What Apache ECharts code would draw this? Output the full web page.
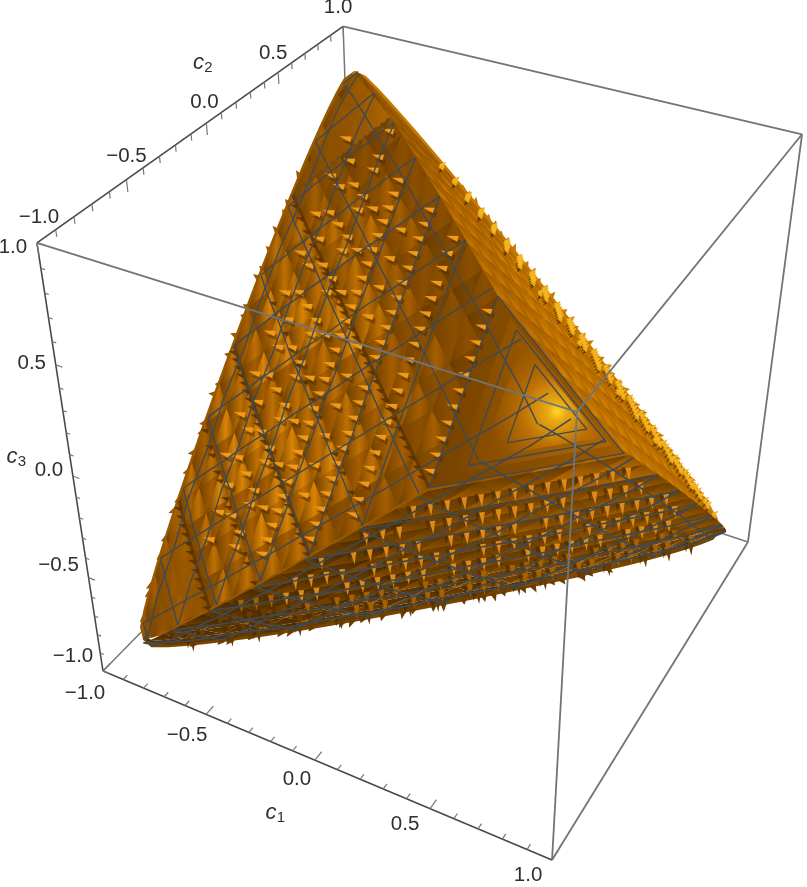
<!DOCTYPE html>
<html>
<head>
<meta charset="utf-8">
<title>c1 c2 c3 region</title>
<style>html,body{margin:0;background:#fff}#main{width:807px;height:887px}</style>
<script src="https://cdn.jsdelivr.net/npm/echarts@6/dist/echarts.min.js"></script>
</head>
<body>
<div id="main"></div>
<script>
// axis ticks
var tickMajor = [-1, -0.5, 0, 0.5, 1];
var tickLabels = ['\u22121.0', '\u22120.5', '0.0', '0.5', '1.0'];
var tickMinor = [-0.9, -0.8, -0.7, -0.6, -0.4, -0.3, -0.2, -0.1, 0.1, 0.2, 0.3, 0.4, 0.6, 0.7, 0.8, 0.9];
var meshLevels = [-0.8, -0.6, -0.4, -0.2, 0, 0.2, 0.4, 0.6, 0.8];
var meshJitter = [0, 0.006, -0.005, 0.007, -0.004, 0.005, -0.007, 0.003, 0.006, -0.006];

// corners of the body in c1,c2,c3
var vertexT = [-0.87, 0.87, 0.87];
var vertexL = [-0.87, -0.87, -0.87];
var vertexV = [0.87, -0.87, 0.87];
var vertexR = [0.89, 0.89, -0.89];

// shade of each lattice cell, read by eye, one string per row
var shadeA = ['2223323323321211', '222334334332111', '22344344332111', '2334434433211', '333443433211',
  '34443343321', '3443343221', '344333221', '23332211', '2332111', '222211', '22111', '1111', '111', '11', '1'];
var shadeB = ['0000111111222222', '000011112222222', '00011112222233', '0011122222333', '001122223333',
  '01122223333', '1122233333', '112233333', '12233333', '1223333', '223344', '23344', '3344', '344', '44', '4'];
var shadeC = ['0011223344444444', '011223344444444', '01233444444444', '1233444444444', '123344444444',
  '23344444444', '2334444444', '333444444', '33344444', '3334444', '333444', '33444', '3344', '334', '33', '3'];

// spike rows on the left face: [row, positions along the row]
var spikesA = [
  [2.25, [13, 16, 19, 22, 25, 28, 31, 34, 37]],
  [3, [6, 8, 10, 12, 14, 16, 18, 20, 22, 24, 26, 28, 30, 32, 34]],
  [3.75, [7, 10, 13, 16, 19, 22, 25, 28, 31]],
  [4.5, [4, 5, 7, 8, 10, 11, 13, 14, 16, 17, 19, 20, 22, 23, 25, 26, 28, 29, 31, 32, 34]],
  [5.25, [6, 9, 12, 15, 18, 21, 24, 27]],
  [6, [2, 3, 4, 5, 6, 7, 8, 9, 10, 11, 12, 13, 14, 15, 16, 17, 18, 19, 20, 21, 22, 23, 24, 25, 26, 27, 28]],
  [7, [5, 7, 9, 11, 13, 15, 17, 19, 21, 23]],
  [8, [1, 2, 3, 4, 5, 6, 7, 8, 9, 10, 11, 13, 14, 15, 16, 17, 18, 19, 20, 21, 22, 23]],
  [9.5, [1, 2, 3, 4, 5, 6, 7, 8, 9, 10, 11, 12, 13, 14, 15, 16, 17, 18, 19]],
  [12, [1, 2, 3, 4, 5, 6, 7, 8, 9, 10, 11]]
];
// dark serrated valleys on the left face: [row, positions along the row]
var serrationsA = [
  [12, [0, 1, 2, 3, 4, 5, 6, 7, 8, 9, 10, 11]],
  [10, [0, 2, 3, 5, 6, 8, 9, 11, 12, 14, 15, 17]],
  [8, [0, 1, 2, 3, 4, 5, 6, 7, 8, 9, 10, 11, 12, 13, 14, 15, 16, 17, 18, 19, 20, 21, 22, 23]],
  [6, [3, 5, 7, 9, 11, 13, 15, 17, 19, 21, 23, 25]],
  [4, [1, 2, 3, 4, 5, 6, 7, 8, 9, 10, 11, 12, 13, 14, 15, 16, 17, 18, 19, 20, 21, 22, 24, 26, 28, 30, 32, 34]]
];
// spike rows on the lower face
var spikesB = [
  [11, [1, 2, 3, 4, 5, 6, 7, 8, 9, 10, 11, 12, 13, 14]],
  [9.5, [1, 2, 3, 5, 6, 7, 8, 9, 10, 11, 12, 13, 15, 16, 17, 18]],
  [8, [1, 3, 4, 5, 6, 7, 9, 10, 11, 12, 13, 15, 16, 17, 18, 19, 20, 21, 22, 23]],
  [6.5, [2, 3, 4, 5, 7, 8, 9, 10, 11, 12, 14, 15, 16, 17, 18, 19, 21, 22, 23, 24, 25, 26, 27]],
  [5, [1, 2, 3, 4, 5, 6, 8, 9, 10, 11, 12, 13, 15, 16, 17, 18, 20, 21, 22, 23, 24, 25, 27, 28, 29, 30]],
  [3.5, [2, 3, 4, 5, 6, 7, 8, 10, 11, 12, 13, 14, 16, 17, 18, 19, 20, 22, 23, 24, 25, 26, 28, 29, 30, 31, 33, 34]],
  [2, [1, 2, 3, 5, 6, 7, 8, 10, 11, 12, 14, 15, 16, 18, 19, 20, 22, 23, 24, 26, 27, 28, 30, 31, 33, 34, 36, 37, 39]],
  [0.8, [4, 7, 9, 12, 15, 17, 20, 22, 25, 28, 30, 33, 35, 38, 40, 42]]
];
// bright dabs on the right strip
var dabsC = [
  [0.4, [16, 18, 20, 22, 24, 26, 28, 30, 32, 34, 36, 38, 40, 42, 44, 46, 48, 50, 52, 54, 56, 58, 60]],
  [0.9, [13, 15, 17, 19, 21, 23, 25, 27, 29, 31, 33, 35, 37, 39, 41, 43, 45, 47, 49, 51, 53, 55, 57]],
  [1.4, [12, 14, 16, 18, 20, 22, 24, 26, 28, 30, 32, 34, 36, 38, 40, 42, 44, 46, 48, 50, 52, 54]],
  [1.9, [15, 17, 19, 21, 23, 25, 27, 29, 31, 33, 35, 37, 39, 41, 43, 45, 47, 49, 51]],
  [2.4, [20, 22, 24, 26, 28, 30, 32, 34, 36, 38, 40, 42, 44, 46]],
  [2.9, [24, 27, 30, 33, 36, 39, 42]]
];
// teeth on the outline, quarter lattice steps along each edge
var rimLeft = [3, 6, 7, 10, 12, 15, 16, 19, 21, 23, 24, 27, 28, 31, 33, 35, 36, 39, 40, 42, 44, 46, 47, 50];
var rimRight = [18, 19, 20, 21, 22, 23, 24, 25, 26, 27, 28, 29, 30, 31, 32, 33, 34, 35, 36, 37, 38, 39, 40, 41, 42, 43, 44, 45, 46, 47, 48, 49, 50, 51, 52, 53, 54, 55, 56, 57, 58, 59, 60];
var rimBottom = [7, 10, 11, 13, 16, 17, 19, 22, 23, 24, 26, 28, 29, 31, 32, 34, 36, 37, 38, 40, 41, 43, 44, 46, 47, 49];

// labels, shifted off their ticks
var nudgeC1 = [[-18, 22], [-19, 21], [-18, 19], [-25, 16], [-24, 15]];
var nudgeC2 = [[2, -26], [0, -23], [-2, -21], [-5, -19], [-5, -19]];
var nudgeC3 = [[-30, -15], [-30, -12], [-24, -6], [-24, -2], [-24, 4]];

var LATTICE = 16, FONT = '"Liberation Sans", Arial, sans-serif';

// camera fitted to the drawn box corners
function project(c) {
  var u = (c[0] + 1) / 2, v = (c[1] + 1) / 2, w = (c[2] + 1) / 2;
  var d = 1 - 0.1064 * u + 0.2 * v - 0.1636 * w;
  return [(103 + 390.3 * u + 324.7 * v - 72.1 * w) / d, (671 + 97.5 * u - 175.8 * v - 467.8 * w) / d];
}
function onFace(f, i, j, jit) {
  var w1 = i / LATTICE, w2 = j / LATTICE, w0 = 1 - w1 - w2;
  var b = 1 + f.bow * Math.sqrt(Math.max(w0 * w1 + w1 * w2 + w0 * w2, 0)) + (jit || 0);
  return project([0, 1, 2].map(function (k) { return (w0 * f[0][k] + w1 * f[1][k] + w2 * f[2][k]) * b; }));
}
var faceA = [vertexL, vertexT, vertexV], faceB = [vertexL, vertexR, vertexV], faceC = [vertexT, vertexR, vertexV];
faceA.bow = 0.2; faceB.bow = 0.27; faceC.bow = 0.2;
var middle = project([0, 0, 0]);

function hgrad(a, b, c) {
  return new echarts.graphic.LinearGradient(0, 0, 1, 0, [{offset: 0, color: a}, {offset: 0.6, color: b}, {offset: 1, color: c}]);
}
function vgrad(a, b) {
  return new echarts.graphic.LinearGradient(0, 0, 0, 1, [{offset: 0, color: a}, {offset: 1, color: b}]);
}
var paletteA = [['#693c00', '#7c4600', '#6f4000'], ['#744200', '#8c4f00', '#7d4700'], ['#6f4000', '#a65e00', '#7d4700'],
  ['#6e3f00', '#bf7003', '#854c00'], ['#734200', '#d98406', '#8c5000']];
var paletteB = [['#462900', '#683b00'], ['#5a3400', '#7b4600'], ['#603700', '#8f5200'], ['#693d00', '#a35e00'], ['#8a4f00', '#bb6e02']];
var paletteC = [['#7d4700', '#985700', '#8a4f00'], ['#8a4f00', '#a86200', '#985700'], ['#985700', '#b56800', '#a25d00'],
  ['#a25d00', '#c27500', '#ae6500'], ['#ae6500', '#d08000', '#b56a00']];

function cells(f, table, fillFor) {
  var out = [];
  table.forEach(function (row, j) {
    for (var i = 0; i < row.length; i++) {
      var s = +row.charAt(i);
      out.push({p: [onFace(f, i, j), onFace(f, i + 1, j), onFace(f, i, j + 1)], fill: fillFor(s)});
      if (i < row.length - 1) {
        out.push({p: [onFace(f, i + 1, j), onFace(f, i, j + 1), onFace(f, i + 1, j + 1)], fill: fillFor(Math.max(s - 1, 0))});
      }
    }
  });
  return out;
}
function wedge(a, dx, dy, len, wid, fill, op) {
  var nx = -dy, ny = dx;
  return {p: [[a[0] + dx * len, a[1] + dy * len], [a[0] + nx * wid / 2, a[1] + ny * wid / 2], [a[0] - nx * wid / 2, a[1] - ny * wid / 2]], fill: fill, op: op};
}
function edge(f) {
  var out = [];
  for (var k = 0; k <= 32; k++) { out.push(onFace(f, k / 2, 0)); }
  return out;
}

// layers, back to front
var boxBack = [
  [[-1, -1, -1], [-1, 1, -1]], [[-1, 1, -1], [1, 1, -1]], [[-1, 1, -1], [-1, 1, 1]]
].map(function (e) { return {p: e.map(project), stroke: '#777', w: 1.5}; });

var leftEdge = edge(faceA), bottomEdge = edge(faceB), rightEdge = edge(faceC);
var baseItems = [
  {p: leftEdge.concat(rightEdge), fill: '#975800'},
  {p: leftEdge, stroke: '#975800', w: 5, round: true},
  {p: rightEdge, stroke: '#c67a02', w: 5, round: true},
  {p: bottomEdge, stroke: '#784500', w: 5, round: true}
];
var rimItems = [];
function addRim(list, f, size, col) {
  list.forEach(function (q, n) {
    var a = onFace(f, q / 4, 0), dx = a[0] - middle[0], dy = a[1] - middle[1], r = Math.sqrt(dx * dx + dy * dy);
    rimItems.push(wedge(a, dx / r, dy / r, size + (n % 3) * 1.5, 7, col));
  });
}
addRim(rimLeft, faceA, 5, '#975800');
addRim(rimRight, faceC, 5, '#c67a02');
addRim(rimBottom, faceB, 6, '#693c00');

var cellsC = cells(faceC, shadeC, function (s) { return hgrad(paletteC[s][0], paletteC[s][1], paletteC[s][2]); });
var cellsB = cells(faceB, shadeB, function (s) { return vgrad(paletteB[s][0], paletteB[s][1]); });
var cellsA = cells(faceA, shadeA, function (s) { return hgrad(paletteA[s][0], paletteA[s][1], paletteA[s][2]); });

function tri(f, a, b, c) { return [onFace(f, a[0], a[1]), onFace(f, b[0], b[1]), onFace(f, c[0], c[1])]; }
// cut across the corner around V, reaching over all three faces
function cutV(n) { return [onFace(faceA, 16 - n, n), onFace(faceA, 0, n), onFace(faceC, 16 - n, n)]; }
var terraces = [
  {p: tri(faceA, [12, 0], [16, 0], [12, 4]), fill: hgrad('#7d4700', '#9a5800', '#b46a02'), op: 0.8},
  {p: tri(faceA, [0, 0], [4, 0], [0, 4]), fill: hgrad('#7a4500', '#a05c00', '#844c00'), op: 0.75},
  {p: cutV(12), fill: hgrad('#754200', '#8a4f00', '#a05c00')},
  {p: cutV(12.8), fill: hgrad('#7c4600', '#a05c00', '#b06600')},
  {p: cutV(13.6),
    fill: new echarts.graphic.RadialGradient(0.64, 0.6, 0.6, [{offset: 0, color: '#fbdc22'}, {offset: 0.14, color: '#eaa814'}, {offset: 0.5, color: '#bd7003'}, {offset: 1, color: 'rgba(165,96,0,0)'}])}
];

var valleys = [];
function valley(a, b, w, dash, col) {
  var p = [];
  for (var k = 0; k <= 8; k++) {
    p.push(onFace(faceA, a[0] + (b[0] - a[0]) * k / 8, a[1] + (b[1] - a[1]) * k / 8));
  }
  valleys.push({p: p, stroke: col, w: w, dash: dash, op: 0.75});
}
[4, 8, 12].forEach(function (b) {
  valley([16 - b, 0], [0, 16 - b], 3, null, '#583200');
});
[8, 12].forEach(function (b) {
  valley([b, 0], [b, 16 - b], 1.6, [4, 3], '#3f4a52');
});

var spikeItems = [];
serrationsA.forEach(function (row) {
  row[1].forEach(function (q) {
    var a = onFace(faceA, q / 3, 16 - row[0] - q / 3);
    spikeItems.push(wedge(a, -0.96, -0.26, 8, 5, '#583200', 0.9));
  });
});
spikesA.forEach(function (row) {
  row[1].forEach(function (q) {
    var a = onFace(faceA, q / 3, row[0]);
    spikeItems.push(wedge([a[0] + 2, a[1] + 4], -0.95, -0.2, 12, 6, '#4c2b00', 0.5));
    spikeItems.push(wedge(a, -0.96, -0.26, 12, 6, '#ef9a18'));
  });
});
spikesB.forEach(function (row) {
  row[1].forEach(function (q) {
    var a = onFace(faceB, q / 3, row[0]), lit = row[0] > 4 ? 1 : (row[0] > 1.5 ? 0.6 : 0.25);
    lit = lit * (q / 3 + row[0] > 6 ? 1 : 0.6);
    var col = lit > 0.8 ? '#dd8a18' : (lit > 0.45 ? '#a86000' : '#683b00');
    spikeItems.push(wedge([a[0] - 4, a[1]], -0.06, 1, 10, 6, '#482a00', 0.6));
    spikeItems.push(wedge(a, 0.08, 1, 13, 6, col));
  });
});
dabsC.forEach(function (row) {
  row[1].forEach(function (q) {
    var a = onFace(faceC, q / 4, row[0]);
    spikeItems.push(wedge([a[0] + 1, a[1] + 3], -0.7, 0.7, 5, 3, '#5a3600', 0.8));
    spikeItems.push(wedge(a, 0.75, -0.66, 7, 5, '#f5b51f'));
    spikeItems.push(wedge([a[0] + 3, a[1] + 2], -0.9, -0.4, 6, 4, '#eca81a'));
  });
});

// mesh runs along each edge of a face at constant coordinate
var meshItems = [];
function meshFace(f, width) {
  meshLevels.forEach(function (lv) {
    var g = (lv + 0.87) / 1.74, n = 12, k, p1 = [], p2 = [], p3 = [];
    for (k = 0; k <= n; k++) {
      var t = k / n, m = LATTICE * (1 - g), jit = meshJitter[k % meshJitter.length] * (1 - g);
      p1.push(onFace(f, t * m, LATTICE * g, jit));
      p2.push(onFace(f, LATTICE * g, t * m, jit));
      p3.push(onFace(f, t * m, m - t * m, jit));
    }
    if (g < 0.7) { meshItems.push({p: p1, stroke: '#3f4a52', w: width}); }
    meshItems.push({p: p2, stroke: '#3f4a52', w: width}, {p: p3, stroke: '#3f4a52', w: width});
  });
}
meshFace(faceA, 1.4);
meshFace(faceB, 1.6);
[12, 13.2, 14.4].forEach(function (n) {
  var p = cutV(n);
  meshItems.push({p: p.concat([p[0]]), stroke: '#3f4a52', w: 1.4});
});

var boxFront = [
  [[-1, -1, 1], [1, -1, 1]], [[1, -1, 1], [1, -1, -1]], [[1, -1, 1], [1, 1, 1]],
  [[-1, 1, 1], [1, 1, 1]], [[1, 1, 1], [1, 1, -1]], [[1, 1, -1], [1, -1, -1]]
].map(function (e) { return {p: e.map(project), stroke: '#70757a', w: 1.8}; });
var axisItems = [
  [[-1, -1, -1], [1, -1, -1]], [[-1, -1, 1], [-1, 1, 1]], [[-1, -1, -1], [-1, -1, 1]]
].map(function (e) { return {p: e.map(project), stroke: '#484848', w: 1.6}; });

function addTick(at, off) {
  axisItems.push({p: [project(at), project([at[0] + off[0], at[1] + off[1], at[2] + off[2]])], stroke: '#777', w: 1.2});
}
tickMajor.forEach(function (t) {
  addTick([t, -1, -1], [0, 0.05, 0]);
  addTick([-1, t, 1], [0, 0, -0.05]);
  addTick([-1, -1, t], [0.03, 0, 0]);
});
tickMinor.forEach(function (t) {
  addTick([t, -1, -1], [0, 0.028, 0]);
  addTick([-1, t, 1], [0, 0, -0.028]);
  addTick([-1, -1, t], [0.018, 0, 0]);
});
function addLabel(at, nudge, text) {
  var p = project(at);
  axisItems.push({text: text, at: [p[0] + nudge[0], p[1] + nudge[1]], size: 20.5});
}
tickMajor.forEach(function (t, n) {
  addLabel([t, -1, -1], nudgeC1[n], tickLabels[n]);
  addLabel([-1, t, 1], nudgeC2[n], tickLabels[n]);
  addLabel([-1, -1, t], nudgeC3[n], tickLabels[n]);
});
function addName(at, nudge, sub) {
  var p = project(at);
  axisItems.push({text: 'c', at: [p[0] + nudge[0], p[1] + nudge[1]], size: 22, italic: true});
  axisItems.push({text: sub, at: [p[0] + nudge[0] + 10, p[1] + nudge[1] + 5], size: 15});
}
addName([0, -1, -1], [-44, 53], '1');
addName([-1, 0, 1], [-8, -60], '2');
addName([-1, -1, 0], [-61, -19], '3');

function layer(items, z) {
  return {
    type: 'custom', coordinateSystem: 'cartesian2d', z: z, silent: true, animation: false, clip: false, progressive: 0,
    data: items.map(function (it, i) { return [i, i]; }),
    renderItem: function (params, api) {
      var it = items[params.dataIndex];
      if (it.text) {
        var q = api.coord(it.at);
        return {type: 'text', style: {text: it.text, x: q[0], y: q[1], fill: '#2f2f2f', fontSize: it.size, fontFamily: FONT,
          fontStyle: it.italic ? 'italic' : 'normal', align: 'center', verticalAlign: 'middle'}};
      }
      var pts = it.p.map(function (c) { return api.coord(c); });
      if (it.fill) {
        return {type: 'polygon', shape: {points: pts}, style: {fill: it.fill, opacity: it.op == null ? 1 : it.op}};
      }
      return {type: 'polyline', shape: {points: pts}, style: {fill: null, stroke: it.stroke, lineWidth: it.w,
        lineDash: it.dash || null, opacity: it.op == null ? 1 : it.op,
        lineCap: it.round ? 'round' : 'butt', lineJoin: 'round'}};
    }
  };
}

var myChart = echarts.init(document.getElementById('main'));
myChart.setOption({
  animation: false,
  backgroundColor: '#fff',
  grid: {left: 0, right: 0, top: 0, bottom: 0},
  xAxis: {type: 'value', min: 0, max: 807, show: false},
  yAxis: {type: 'value', min: 0, max: 887, inverse: true, show: false},
  series: [
    layer(boxBack, 1), layer(baseItems, 2), layer(rimItems, 3), layer(cellsC, 4), layer(cellsB, 5), layer(cellsA, 6),
    layer(terraces, 7), layer(valleys, 8), layer(spikeItems, 9), layer(meshItems, 10), layer(boxFront, 11), layer(axisItems, 12)
  ]
});
</script>
</body>
</html>
